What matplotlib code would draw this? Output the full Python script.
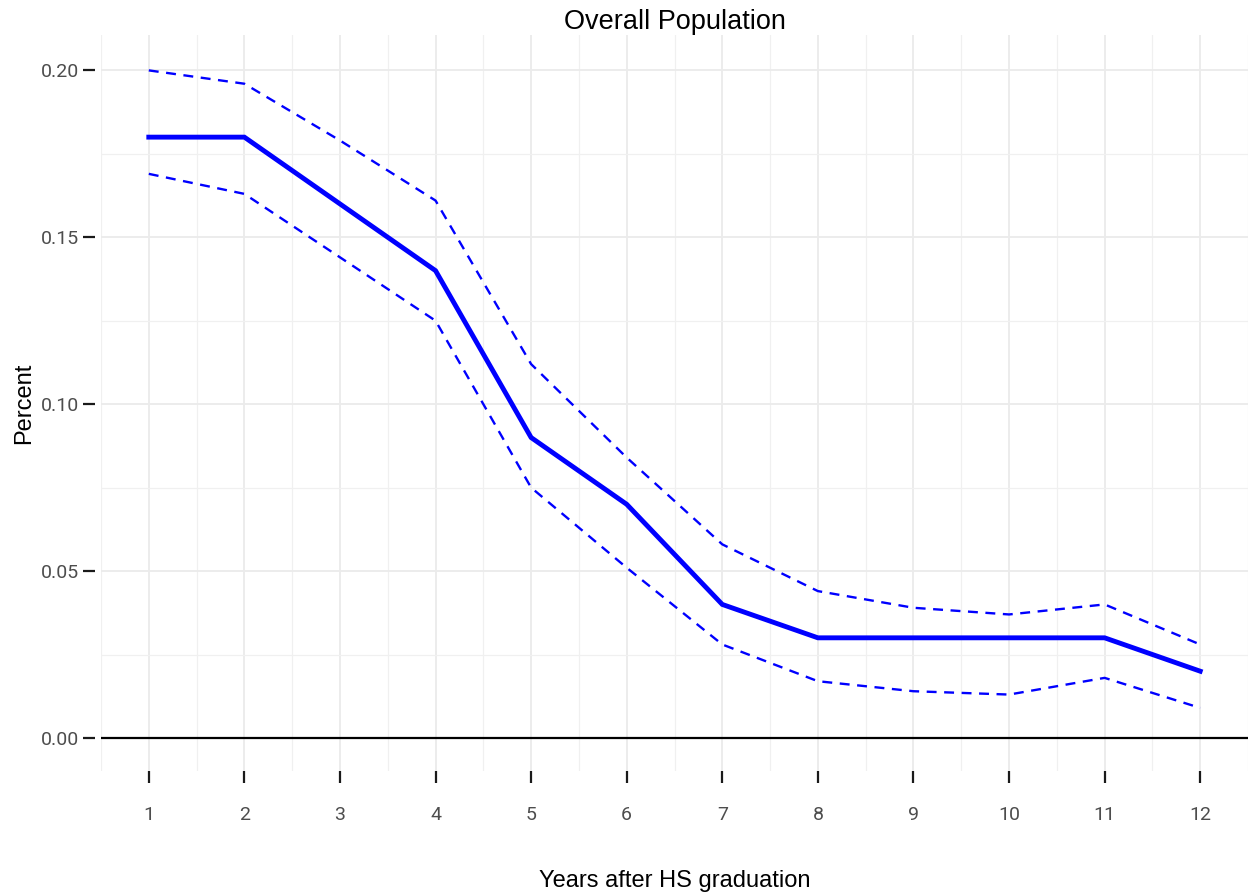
import matplotlib
matplotlib.use("Agg")
import matplotlib.pyplot as plt
import numpy as np

years = [1, 2, 3, 4, 5, 6, 7, 8, 9, 10, 11, 12]
estimate = [0.18, 0.18, 0.16, 0.14, 0.09, 0.07, 0.04, 0.03, 0.03, 0.03, 0.03, 0.02]
upper = [0.200, 0.196, 0.179, 0.161, 0.112, 0.084, 0.058, 0.044, 0.039, 0.037, 0.040, 0.028]
lower = [0.169, 0.163, 0.144, 0.125, 0.075, 0.051, 0.028, 0.017, 0.014, 0.013, 0.018, 0.009]
y_ticks = [0.00, 0.05, 0.10, 0.15, 0.20]
y_tick_labels = ["0.00", "0.05", "0.10", "0.15", "0.20"]

fig = plt.figure(figsize=(12.48, 8.94), dpi=100)
ax = fig.add_axes([101 / 1248, 123 / 894, 1 - 101 / 1248, 736 / 894])

ax.set_xlim(0.5, 12.5)
ax.set_ylim(-0.0099, 0.2106)

# grid
ax.set_xticks(years)
ax.set_xticks(np.arange(0.5, 13, 1.0), minor=True)
ax.set_yticks(y_ticks)
ax.set_yticks(np.arange(-0.0, 0.21, 0.025), minor=True)
ax.grid(which="major", color="#ebebeb", linewidth=1.3)
ax.grid(which="minor", color="#f0f0f0", linewidth=0.9)
ax.set_axisbelow(True)

for s in ax.spines.values():
    s.set_visible(False)
ax.spines["left"].set_position(("outward", 4))

ax.axhline(0, color="black", linewidth=1.6, zorder=2)

ax.plot(years, upper, color="#0000ff", linewidth=1.7, linestyle=(0, (4.2, 3.2)), zorder=3)
ax.plot(years, lower, color="#0000ff", linewidth=1.7, linestyle=(0, (4.2, 3.2)), zorder=3)
ax.plot(years, estimate, color="#0000ff", linewidth=3.5, zorder=4, solid_joinstyle="miter")

ax.set_yticklabels(y_tick_labels)
ax.set_xticklabels([str(y) for y in years])
ax.tick_params(which="major", direction="out", length=8.6, width=1.6, color="#1a1a1a",
               labelcolor="#4d4d4d", labelsize=14)
ax.tick_params(axis="x", pad=16.5)
ax.tick_params(axis="y", pad=3)
ax.tick_params(which="minor", length=0)
for lab in ax.get_xticklabels() + ax.get_yticklabels():
    lab.set_fontfamily("Roboto")

ax.set_title("Overall Population", fontsize=19.5, fontfamily="Liberation Sans", pad=4)
ax.set_xlabel("Years after HS graduation", fontsize=17, fontfamily="Liberation Sans", labelpad=33)
ax.set_ylabel("Percent", fontsize=17, fontfamily="Liberation Sans", labelpad=4.5)

fig.savefig("out.png", dpi=100)
